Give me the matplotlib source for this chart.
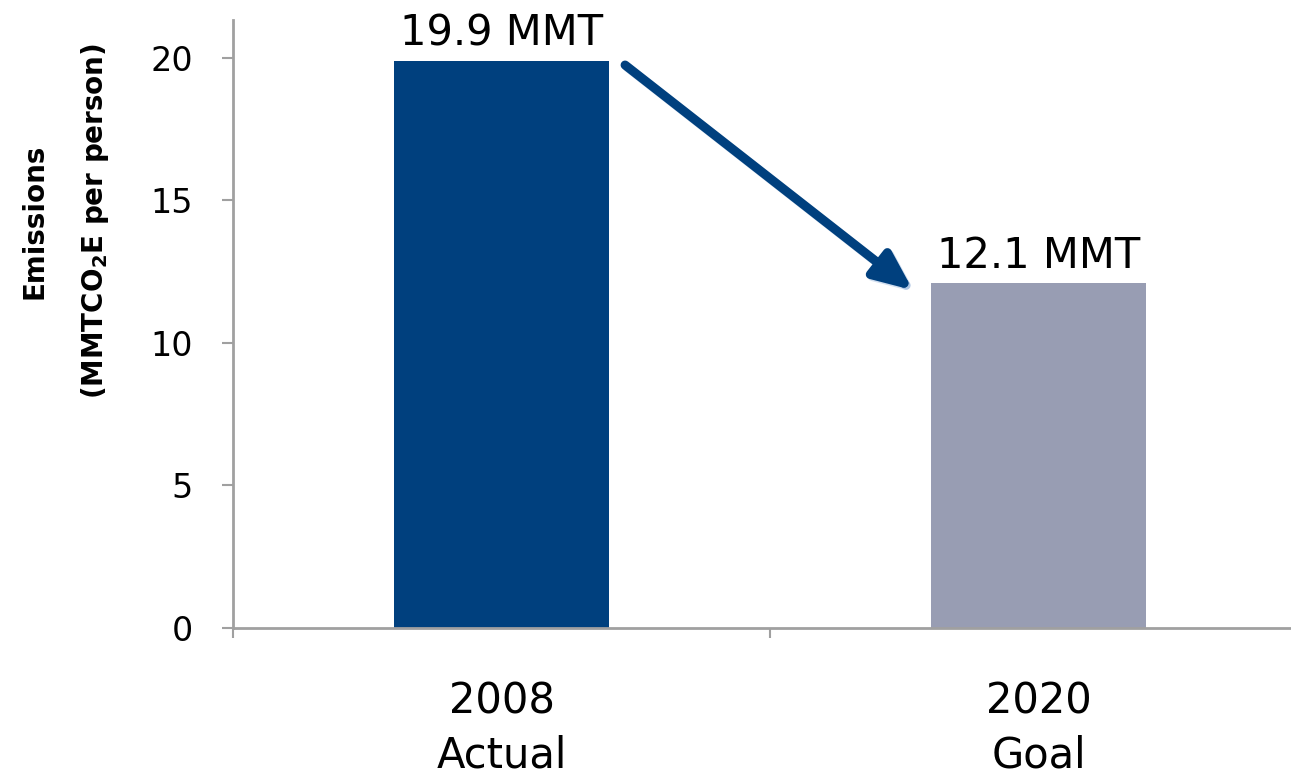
import matplotlib
matplotlib.use("Agg")
import matplotlib.pyplot as plt
import matplotlib.patheffects as pe

# chart data
categories = ["2008\nActual", "2020\nGoal"]
values = [19.9, 12.1]
value_labels = ["19.9 MMT", "12.1 MMT"]
bar_colors = ["#00407E", "#989DB3"]
yticks = [0, 5, 10, 15, 20]

plt.rcParams["font.family"] = ["DejaVu Sans"]

fig = plt.figure(figsize=(12.91, 7.75), dpi=100)
# right edge of axes runs past the figure, like the cropped original
ax = fig.add_axes([0.1805, 0.1897, 0.832, 0.7845])

xpos = list(range(len(categories)))
bw = 0.4
bars = ax.bar(xpos, values, width=bw, color=bar_colors, zorder=2)

ax.set_xlim(-0.5, len(categories) - 0.5)
ax.set_ylim(0, 21.33)

# value labels above bars
for x, v, lab in zip(xpos, values, value_labels):
    ax.annotate(lab, (x, v), xytext=(0, 11), textcoords="offset points",
                ha="center", va="baseline", fontsize=30, color="black")

# arrow from first bar down to second
ax.annotate("", xy=(xpos[1] - bw / 2 - 0.034, values[1] - 0.25),
            xytext=(xpos[0] + bw / 2 + 0.03, values[0] - 0.15),
            arrowprops=dict(arrowstyle="-|>,head_length=1.15,head_width=0.5",
                            mutation_scale=20, lw=6.5, color="#00407E",
                            shrinkA=0, shrinkB=0,
                            path_effects=[pe.SimpleLineShadow(offset=(1.5, -1.5), alpha=0.25,
                                                              shadow_color="#4a7fc0"),
                                          pe.Normal()]))

# axes styling
spine_c = "#A0A0A0"
for s in ["top", "right"]:
    ax.spines[s].set_visible(False)
for s in ["left", "bottom"]:
    ax.spines[s].set_color(spine_c)
    ax.spines[s].set_linewidth(2)

ax.set_yticks(yticks)
ax.tick_params(axis="y", direction="out", length=8, width=1.5, color=spine_c,
               pad=21, labelsize=24, labelcolor="black")

ax.set_xticks(xpos)
ax.set_xticklabels(categories, linespacing=1.35)
ax.set_xticks([-0.5, 0.5, 1.5], minor=True)
ax.tick_params(axis="x", which="major", length=0, pad=38, labelsize=30)
ax.tick_params(axis="x", which="minor", direction="out", length=7, width=1.5, color=spine_c)

fig.text(0.051, 0.715, "Emissions\n(MMTCO$_\\mathbf{2}$E per person)", rotation=90,
         ha="center", va="center", multialignment="center", fontsize=20,
         fontweight="bold", linespacing=2.3)

fig.savefig("out.png", dpi=100)
